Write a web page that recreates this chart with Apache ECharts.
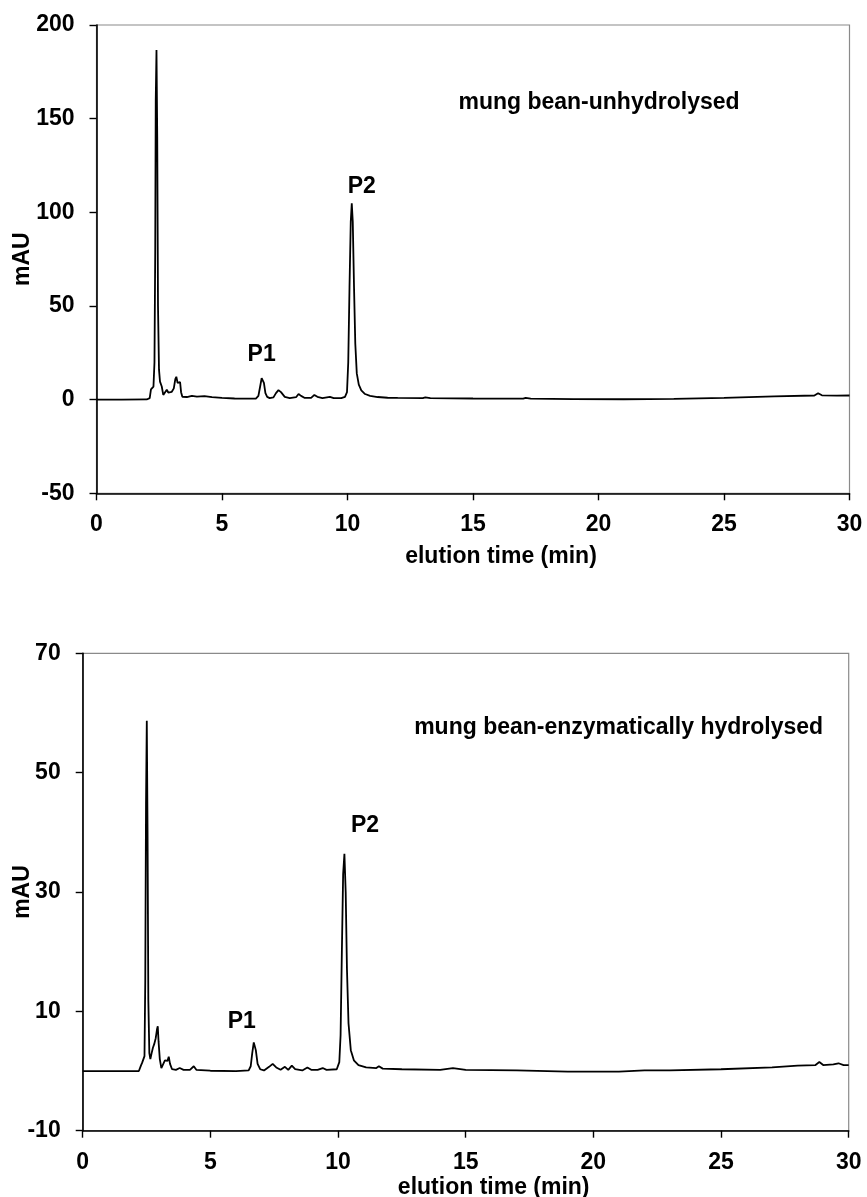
<!DOCTYPE html>
<html>
<head>
<meta charset="utf-8">
<script src="https://cdn.jsdelivr.net/npm/echarts@6/dist/echarts.min.js"></script>
<style>
html,body{margin:0;padding:0;background:#fff;}
#chart{width:867px;height:1197px;}
</style>
</head>
<body>
<div id="chart"></div>
<script>
// ---- data (elution time in min, absorbance in mAU) ----
const topTrace = [
  [0,0],[1,0],[2.0,0.1],[2.12,0.8],[2.17,5.5],[2.22,6.5],[2.27,7],[2.31,20],[2.34,80],[2.36,160],[2.39,186.6],[2.42,140],[2.45,50],[2.49,16],[2.53,9.6],[2.6,7],
  [2.66,2.5],[2.73,3.5],[2.8,5.3],[2.86,3.8],[2.93,3.5],[3.0,4.2],[3.08,6],[3.14,11],[3.18,12.2],[3.23,9],[3.28,9.8],[3.33,9.4],[3.37,4],[3.42,1.5],
  [3.6,1.4],[3.8,2.0],[4.0,1.6],[4.3,1.9],[4.6,1.3],[5.0,0.9],[5.5,0.6],[6.0,0.5],[6.35,0.6],[6.45,2],[6.52,7],[6.58,11.5],[6.62,12.2],[6.67,9],[6.73,3.5],
  [6.8,1.5],[6.9,0.8],[7.05,1.2],[7.15,3.5],[7.25,5.1],[7.35,4],[7.5,1.5],[7.7,0.8],[7.95,1.3],[8.05,3.0],[8.15,2],[8.3,0.9],[8.55,0.9],[8.68,2.5],[8.8,1.5],
  [9.0,0.8],[9.3,1.5],[9.45,0.8],[9.75,0.8],[9.9,1.5],[9.98,4],[10.03,20],[10.08,60],[10.13,95],[10.17,104.8],[10.21,95],[10.26,60],[10.31,30],[10.37,14],
  [10.45,8],[10.55,5],[10.7,3],[10.9,2],[11.2,1.4],[11.6,1.0],[12,0.9],[13,0.8],[13.1,1.2],[13.3,0.8],[15,0.6],[17,0.5],[17.1,0.9],[17.3,0.5],[19,0.3],
  [21,0.2],[23,0.4],[25,0.9],[27,1.7],[28.6,2.2],[28.75,3.4],[28.9,2.3],[29.5,2.1],[30,2.2]
];
const bottomTrace = [
  [0,0],[1,0],[2.2,0],[2.28,0.9],[2.33,1.4],[2.38,1.5],[2.42,2.5],[2.45,15],[2.48,45],[2.51,58.7],[2.54,40],[2.57,12],[2.61,3],[2.65,2.0],[2.7,3],
  [2.75,3.9],[2.8,4.5],[2.86,5.5],[2.91,7.0],[2.94,7.5],[2.97,5],[3.02,2],[3.08,0.5],[3.15,0.8],[3.22,1.8],[3.27,2],[3.32,1.7],[3.37,2.4],[3.42,1.2],
  [3.5,0.3],[3.65,0.2],[3.8,0.5],[3.95,0.2],[4.2,0.2],[4.35,0.8],[4.45,0.2],[5,0.05],[6,0],[6.5,0.1],[6.58,0.8],[6.64,3],[6.7,4.8],[6.73,5.0],[6.78,3.5],
  [6.85,1.2],[6.95,0.3],[7.1,0.1],[7.3,0.7],[7.44,1.2],[7.58,0.6],[7.75,0.2],[7.92,0.7],[8.05,0.2],[8.19,0.9],[8.32,0.3],[8.6,0.1],[8.8,0.6],[8.95,0.2],
  [9.2,0.2],[9.4,0.5],[9.55,0.2],[9.95,0.3],[10.05,1.5],[10.1,6],[10.15,20],[10.2,33],[10.25,36.4],[10.3,30],[10.35,17],[10.41,8],[10.5,3.5],[10.62,1.8],
  [10.8,1],[11.1,0.6],[11.5,0.5],[11.6,0.8],[11.75,0.4],[12.5,0.3],[14,0.2],[14.5,0.5],[15,0.2],[17,0.1],[19,-0.1],[21,-0.1],[22,0.1],[23,0.1],[25,0.3],
  [27,0.6],[28,0.9],[28.7,1.0],[28.85,1.5],[29,1.0],[29.4,1.1],[29.6,1.3],[29.8,1.0],[30,1.0]
];
// annotations: [x (min), y (mAU), text]
const topNotes = [[6.58,23.8,'P1'],[10.57,113.7,'P2'],[20.02,158.3,'mung bean-unhydrolysed']];
const bottomNotes = [[6.23,8.26,'P1'],[11.06,41.05,'P2'],[20.99,57.6,'mung bean-enzymatically hydrolysed']];
const xTicks = [0,5,10,15,20,25,30];
const topYTicks = [-50,0,50,100,150,200];
const bottomYTicks = [-10,10,30,50,70];
const xTitle = 'elution time (min)';
const yTitle = 'mAU';

const FONT = '"Liberation Sans", Arial, sans-serif';
const FS = 23;

function xAxis(gridIndex, nameGap) {
  return {
    type: 'value', gridIndex, min: 0, max: 30,
    name: xTitle, nameLocation: 'middle', nameGap, nameMoveOverlap: false,
    nameTextStyle: {color:'#000', fontFamily: FONT, fontWeight:'bold', fontSize: FS, padding:[0,0,0,56]},
    axisLine: {show:true, onZero:false, lineStyle:{color:'#000', width:1.6}},
    axisTick: {show:true, inside:false, length:7, lineStyle:{color:'#000', width:1.4}, customValues: xTicks},
    axisLabel: {show:true, margin:20, color:'#000', fontFamily: FONT, fontWeight:'bold', fontSize: FS, customValues: xTicks},
    splitLine: {show:false}
  };
}
function yAxis(gridIndex, min, max, ticks, nameGap) {
  return {
    type: 'value', gridIndex, min, max,
    name: yTitle, nameLocation: 'middle', nameGap, nameRotate: 90, nameMoveOverlap: false,
    nameTextStyle: {color:'#000', fontFamily: FONT, fontWeight:'bold', fontSize: FS},
    axisLine: {show:true, onZero:false, lineStyle:{color:'#000', width:1.6}},
    axisTick: {show:true, inside:false, length:7, lineStyle:{color:'#000', width:1.4}, customValues: ticks},
    axisLabel: {show:true, margin:22, color:'#000', fontFamily: FONT, fontWeight:'bold', fontSize: FS, customValues: ticks},
    splitLine: {show:false}
  };
}
function notes(list) {
  return {
    symbol: 'circle', symbolSize: 0.01, silent: true,
    itemStyle: {color:'rgba(0,0,0,0)'},
    label: {show:true, position:'inside', color:'#000', fontFamily: FONT, fontWeight:'bold', fontSize: FS,
            formatter: p => p.name},
    data: list.map(n => ({name: n[2], coord: [n[0], n[1]]}))
  };
}

const chart = echarts.init(document.getElementById('chart'), null, {renderer:'canvas'});
chart.setOption({
  backgroundColor: '#fff',
  animation: false,
  grid: [
    {left: 96.5, width: 753, top: 25, height: 468.3, containLabel: false, outerBoundsMode: 'none',
     show: true, borderColor:'#8a8a8a', borderWidth: 1.2, backgroundColor:'#fff'},
    {left: 82.7, width: 766, top: 653.3, height: 477.4, containLabel: false, outerBoundsMode: 'none',
     show: true, borderColor:'#8a8a8a', borderWidth: 1.2, backgroundColor:'#fff'}
  ],
  xAxis: [xAxis(0, 52), xAxis(1, 45)],
  yAxis: [yAxis(0, -50, 200, topYTicks, 62), yAxis(1, -10, 70, bottomYTicks, 49)],
  series: [
    {type:'line', xAxisIndex:0, yAxisIndex:0, data: topTrace, showSymbol:false, smooth:false,
     lineStyle:{color:'#000', width:1.8}, markPoint: notes(topNotes)},
    {type:'line', xAxisIndex:1, yAxisIndex:1, data: bottomTrace, showSymbol:false, smooth:false,
     lineStyle:{color:'#000', width:1.8}, markPoint: notes(bottomNotes)}
  ]
});
</script>
</body>
</html>
